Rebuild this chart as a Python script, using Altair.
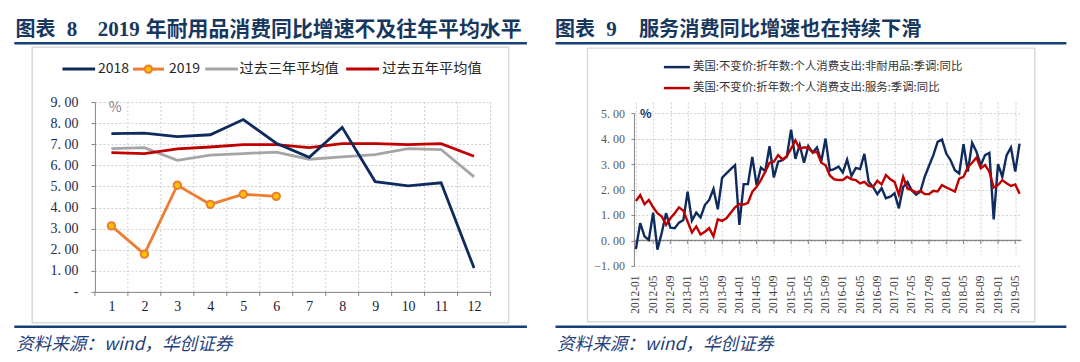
import altair as alt
import pandas as pd

# ---------------- data: left panel (durables) ----------------
months_l = list(range(1, 13))
y2018 = [7.50, 7.53, 7.36, 7.45, 8.17, 7.05, 6.38, 7.80, 5.23, 5.03, 5.17, 1.13]
y2019 = [3.13, 1.79, 5.06, 4.15, 4.63, 4.53]
avg3 = [6.79, 6.84, 6.24, 6.48, 6.56, 6.63, 6.29, 6.40, 6.51, 6.79, 6.75, 5.45]
avg5 = [6.60, 6.56, 6.78, 6.87, 6.98, 6.98, 6.84, 7.03, 7.03, 6.98, 7.03, 6.43]
names_l = ["2018", "2019", "过去三年平均值", "过去五年平均值"]
yticks_l = list(range(0, 10))

# ---------------- data: right panel (US PCE) ----------------
start_year = 2012
n_months = 90
month_labels = [f"{start_year + i // 12}-{i % 12 + 1:02d}" for i in range(n_months)]
tick_labels = month_labels[::4]
nondurable = [
    -0.34, 0.68, 0.16, 0.02, 1.09, -0.36, 0.30, 1.07, 0.50, 0.48,
    0.70, 0.80, 1.91, 0.78, 1.09, 0.90, 1.39, 1.59, 2.02, 1.22,
    2.46, 2.63, 2.80, 2.96, 0.61, 2.21, 2.21, 3.28, 2.17, 2.86,
    2.72, 3.70, 2.47, 3.09, 3.15, 3.28, 4.35, 3.20, 3.75, 3.05,
    3.70, 3.45, 3.65, 3.10, 4.00, 2.75, 2.80, 2.90, 2.67, 3.17,
    2.53, 2.85, 2.80, 3.40, 2.30, 2.10, 1.82, 2.05, 1.66, 1.72,
    1.85, 1.26, 2.10, 2.30, 1.96, 1.80, 1.92, 2.50, 2.93, 3.35,
    3.87, 3.96, 3.41, 3.15, 2.76, 2.63, 3.78, 2.70, 3.83, 3.48,
    2.96, 3.35, 3.44, 0.83, 3.00, 2.50, 3.35, 3.65, 2.70, 3.80,
]
services = [
    1.55, 1.78, 1.42, 1.59, 1.30, 1.07, 0.94, 0.61, 0.87, 1.07,
    1.30, 1.17, 0.74, 0.31, 0.55, 0.23, 0.34, 0.48, 0.16, 0.83,
    0.77, 0.87, 1.09, 1.30, 1.43, 1.41, 1.48, 1.91, 2.11, 2.37,
    2.70, 3.05, 3.09, 3.35, 3.18, 3.31, 3.60, 3.93, 3.60, 3.65,
    3.65, 3.45, 3.48, 3.05, 2.95, 2.55, 2.40, 2.37, 2.37, 2.50,
    2.40, 2.37, 2.24, 2.30, 2.14, 2.10, 2.34, 2.20, 2.57, 2.40,
    2.30, 1.80, 2.50, 2.04, 1.98, 1.88, 1.95, 1.82, 1.82, 1.95,
    1.92, 2.17, 2.08, 2.00, 1.92, 2.43, 2.50, 2.88, 3.05, 3.25,
    2.83, 2.96, 2.70, 2.08, 2.17, 2.37, 2.24, 2.14, 2.20, 1.83,
]
names_r = ["美国:不变价:折年数:个人消费支出:非耐用品:季调:同比",
           "美国:不变价:折年数:个人消费支出:服务:季调:同比"]
yticks_r = list(range(-1, 6))

# ---------------- styling ----------------
NAVY = "#0F2B5E"
ORANGE = "#ED7D31"
ORANGE_FILL = "#FFC000"
GRAY = "#A5A5A5"
RED = "#C00000"
TITLE_BLUE = "#17375E"
RULE_BLUE = "#17407A"
FRAME = "#D9D9D9"
GRID = "#CFCFCF"
AXIS = "#868686"
CJK = "Noto Sans CJK SC"
SERIF = "Liberation Serif"
FOOT_FS = 17.6
TY = -66  # title baseline (panel coordinates)


def one():
    return alt.Data(values=[{"k": 0}])


def hline(x1, x2, y, color, width):
    return alt.Chart(one()).mark_rule(color=color, strokeWidth=width).encode(
        x=alt.value(x1), x2=alt.value(x2), y=alt.value(y))


def box(x1, x2, y1, y2, stroke):
    return alt.Chart(one()).mark_rect(
        fillOpacity=0, stroke=stroke, strokeWidth=1.5
    ).encode(x=alt.value(x1), x2=alt.value(x2), y=alt.value(y1), y2=alt.value(y2))


def label(x, y, s, size, color, font=CJK, weight="normal", style="normal", baseline="alphabetic"):
    return alt.Chart(one()).mark_text(
        text=s, align="left", baseline=baseline, fontSize=size, color=color,
        font=font, fontWeight=weight, fontStyle=style
    ).encode(x=alt.value(x), y=alt.value(y))


# ================= LEFT PANEL =================
WL, HL = 396, 190
xs_l = alt.Scale(domain=[0.5, 12.5], nice=False, zero=False)
ys_l = alt.Scale(domain=[0, 9], nice=False, zero=False)
xax_l = alt.Axis(values=months_l, format="d", ticks=False, grid=False, title=None,
                 domainColor=AXIS, labelPadding=8, labelFont=SERIF, labelFontSize=14,
                 labelColor="#1A1A2E")
yax_l = alt.Axis(values=yticks_l, title=None, tickSize=4, tickColor=AXIS, domainColor=AXIS,
                 grid=True, gridColor=GRID, gridDash=[2, 2],
                 labelExpr="datum.value == 0 ? '-' : replace(format(datum.value, '.2f'), '.', '. ')",
                 labelPadding=13, labelFont=SERIF, labelFontSize=14, labelColor="#1A2A4A")

bounds_df = pd.DataFrame({"b": [m + 0.5 for m in [0] + months_l], "z": 0.0, "zb": -0.2})
grid_v = alt.Chart(bounds_df[bounds_df.b > 0.5]).mark_rule(
    color=GRID, strokeDash=[2, 2], strokeWidth=1).encode(
    x=alt.X("b:Q", scale=xs_l, axis=xax_l))
ticks_l = alt.Chart(bounds_df).mark_rule(color=AXIS, strokeWidth=1).encode(
    x=alt.X("b:Q", scale=xs_l, axis=xax_l),
    y=alt.Y("z:Q", scale=ys_l, axis=yax_l), y2="zb:Q")


def series_line(vals, color, width=2.8):
    df = pd.DataFrame({"m": months_l[:len(vals)], "v": vals})
    return alt.Chart(df).mark_line(color=color, strokeWidth=width).encode(
        x=alt.X("m:Q", scale=xs_l, axis=xax_l), y=alt.Y("v:Q", scale=ys_l, axis=yax_l))


line3 = series_line(avg3, GRAY)
line5 = series_line(avg5, RED)
line18 = series_line(y2018, NAVY)
line19 = series_line(y2019, ORANGE)
pts19 = alt.Chart(pd.DataFrame({"m": months_l[:len(y2019)], "v": y2019})).mark_point(
    filled=True, color=ORANGE_FILL, stroke=ORANGE, strokeWidth=2, size=55, opacity=1).encode(
    x=alt.X("m:Q", scale=xs_l, axis=xax_l), y=alt.Y("v:Q", scale=ys_l, axis=yax_l))

leg_y = -33
legend_l = [
    hline(-32.5, 0.2, leg_y, NAVY, 3), label(3, leg_y, names_l[0], 14, "#262626", baseline="middle"),
    hline(38.1, 69.1, leg_y, ORANGE, 3),
    alt.Chart(one()).mark_point(filled=True, color=ORANGE_FILL, stroke=ORANGE, strokeWidth=2,
                                size=55, opacity=1).encode(x=alt.value(53.5), y=alt.value(leg_y)),
    label(74.2, leg_y, names_l[1], 14, "#262626", baseline="middle"),
    hline(110.4, 143.1, leg_y, GRAY, 3), label(144.8, leg_y, names_l[2], 14.2, "#262626", baseline="middle"),
    hline(251.5, 284.3, leg_y, RED, 3), label(287.7, leg_y, names_l[3], 14.2, "#262626", baseline="middle"),
]

left = alt.layer(
    alt.Chart(one()).mark_rect(opacity=0).encode(
        x=alt.value(-86.5), x2=alt.value(977.5), y=alt.value(-94), y2=alt.value(252)),
    box(-62.8, 414.1, -55, 221, FRAME),
    hline(-80.7, 432.4, -59, RULE_BLUE, 2.5),
    hline(-80.7, 432.4, 225, RULE_BLUE, 2.5),
    label(-79.5, TY, "图表", 20, TITLE_BLUE, weight="bold"),
    label(-28.2, TY, "8", 21, TITLE_BLUE, font=SERIF, weight="bold"),
    label(2.8, TY, "2019", 21, TITLE_BLUE, font=SERIF, weight="bold"),
    label(51.0, TY, "年耐用品消费同比增速不及往年平均水平", 20.9, TITLE_BLUE, weight="bold"),
    label(-79, 248, "资料来源：wind，华创证券", FOOT_FS, "#1F3F7A", style="italic"),
    label(13.8, 6, "%", 14, "#808080", baseline="middle"),
    grid_v, ticks_l, line3, line5, line18, line19, pts19,
    *legend_l,
).properties(width=WL, height=HL)

# ================= RIGHT PANEL =================
WR, HR = 388, 164
xs_r = alt.Scale(type="point", domain=month_labels, padding=0.46)
ys_r = alt.Scale(domain=[-1, 5], range=[HR, 11], nice=False, zero=False)
xax_r = alt.Axis(values=tick_labels, labelAngle=270, ticks=False, domain=False, title=None,
                 grid=True, gridColor=GRID, gridDash=[2, 2], labelPadding=9,
                 labelFont=SERIF, labelFontSize=11.5, labelColor="#404040")
yax_r = alt.Axis(values=yticks_r, title=None, tickSize=3, tickColor=AXIS, domainColor=AXIS,
                 grid=True, gridColor=GRID, gridDash=[2, 2],
                 labelExpr="replace(format(datum.value, '.2f'), '.', '. ')",
                 labelPadding=6.5, labelFont=SERIF, labelFontSize=12, labelColor="#595959")

df_r = pd.DataFrame({"m": month_labels, "nd": nondurable, "sv": services})
line_nd = alt.Chart(df_r).mark_line(color=NAVY, strokeWidth=2.4).encode(
    x=alt.X("m:O", scale=xs_r, axis=xax_r), y=alt.Y("nd:Q", scale=ys_r, axis=yax_r))
line_sv = alt.Chart(df_r).mark_line(color=RED, strokeWidth=2.4).encode(
    x=alt.X("m:O", scale=xs_r, axis=xax_r), y=alt.Y("sv:Q", scale=ys_r, axis=yax_r))
zero_line = alt.Chart(pd.DataFrame({"z": [0.0]})).mark_rule(color=AXIS, strokeWidth=1.2).encode(
    y=alt.Y("z:Q", scale=ys_r, axis=yax_r))
zero_ticks = alt.Chart(pd.DataFrame({"m": tick_labels, "z": 0.0, "zb": -0.14})).mark_rule(
    color=AXIS, strokeWidth=1).encode(
    x=alt.X("m:O", scale=xs_r, axis=xax_r), y=alt.Y("z:Q", scale=ys_r, axis=yax_r), y2="zb:Q")

right = alt.layer(
    box(-46.5, 401.2, -54, 220, FRAME),
    hline(-78.5, 432.9, -59, RULE_BLUE, 2.5),
    hline(-78.5, 432.9, 225, RULE_BLUE, 2.5),
    label(-79, TY, "图表", 20, TITLE_BLUE, weight="bold"),
    label(-27.7, TY, "9", 21, TITLE_BLUE, font=SERIF, weight="bold"),
    label(5.0, TY, "服务消费同比增速也在持续下滑", 20.2, TITLE_BLUE, weight="bold"),
    label(-77, 248, "资料来源：wind，华创证券", FOOT_FS, "#1F3F7A", style="italic"),
    hline(30, 56, -35, NAVY, 2.5), label(59.2, -35, names_r[0], 11.4, "#333333", baseline="middle"),
    hline(30, 56, -14, RED, 2.5), label(59.2, -14, names_r[1], 11.4, "#333333", baseline="middle"),
    label(6, 12, "%", 12, NAVY, weight="bold", baseline="middle"),
    zero_line, zero_ticks, line_nd, line_sv,
).properties(width=WR, height=HR)

chart = alt.hconcat(left, right, spacing=143.5, bounds="flush", padding=0).configure_view(
    strokeWidth=0)

chart.save("out.html", embed_options={"renderer": "svg", "actions": False})
